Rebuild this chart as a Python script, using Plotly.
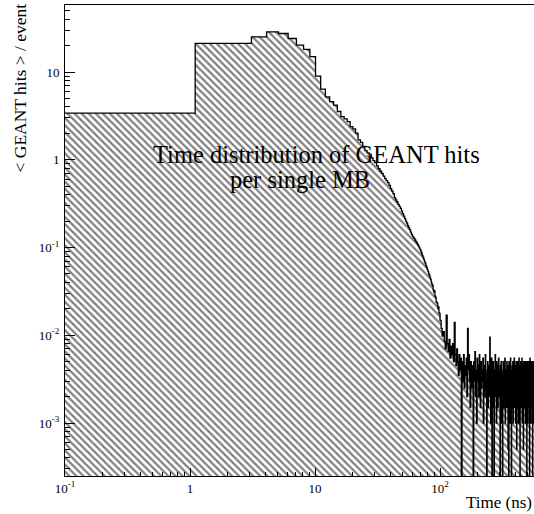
import plotly.graph_objects as go

# ---- data ----
# 1-ns bins starting at 0.1 ns: [0.1,1.1], [1.1,2.1], ... , [99.1,100.1]
fine_start = 0.1
fine_width = 1.0
fine_vals = [
    3.40, 21.2, 21.2, 25.2, 28.7, 27.5, 24.1, 20.3, 18.1, 15.0,
    9.0, 6.4, 5.2, 4.6, 4.2, 3.55, 3.1, 2.92, 2.72, 2.39,
    2.25, 2.01, 1.69, 1.58, 1.42, 1.27, 1.20, 1.16, 1.05, 0.98,
    0.93, 0.85, 0.79, 0.74, 0.70, 0.65, 0.61, 0.58, 0.55, 0.51,
    0.47, 0.44, 0.41, 0.37, 0.35, 0.33, 0.31, 0.295, 0.28, 0.26,
    0.243, 0.228, 0.214, 0.20, 0.19, 0.178, 0.168, 0.160, 0.150, 0.141,
    0.135, 0.130, 0.126, 0.121, 0.117, 0.113, 0.108, 0.104, 0.099, 0.095,
    0.091, 0.086, 0.081, 0.077, 0.073, 0.069, 0.066, 0.062, 0.059, 0.056,
    0.053, 0.050, 0.048, 0.045, 0.043, 0.040, 0.038, 0.037, 0.033, 0.031,
    0.032, 0.028, 0.027, 0.024, 0.0237, 0.023, 0.020, 0.021, 0.018, 0.0178,
]

# tail: 2-ns bins from 100.1 ns, values in units of 1e-3 hits/event
tail_width = 2.0
tail_vals_e3 = [
    14.8, 12.0, 9.8, 11.0, 8.5, 7.0, 17.0, 8.0, 6.5, 9.0,
    5.5, 7.5, 6.0, 8.0, 5.0, 14.0, 6.0, 4.5, 7.0, 5.0,
    3.5, 6.0, 4.0, 5.5, 0, 5.0, 3.0, 6.0, 2.5, 4.5,
    3.5, 5.5, 2.0, 12.0, 4.0, 6.0, 3.0, 1.5, 5.0, 3.5,
    2.5, 4.5, 0, 5.0, 3.0, 6.5, 2.0, 4.0, 1.0, 5.5,
    3.0, 4.5, 2.0, 6.0, 3.5, 1.5, 5.0, 2.5, 4.0, 3.0,
    5.5, 1.0, 3.5, 4.5, 2.0, 6.0, 3.0, 2.5, 0, 4.0,
    5.0, 1.5, 3.0, 4.5, 2.0, 9.5, 3.5, 1.0, 4.0, 5.5,
    0, 3.0, 2.0, 5.0, 1.5, 0, 4.0, 3.0, 6.0, 2.0,
    3.5, 1.0, 5.0, 2.5, 4.5, 1.5, 3.0, 5.5, 2.0, 4.0,
    3.0, 0, 4.5, 2.0, 5.0, 1.0, 3.5, 2.5, 0, 4.0,
    5.0, 1.5, 3.0, 4.5, 2.0, 5.5, 1.0, 3.5, 2.5, 4.0,
    1.5, 5.0, 3.0, 2.0, 4.5, 0.5, 3.5, 0, 5.0, 2.0,
    4.0, 1.0, 3.0, 5.5, 2.0, 4.0, 0, 3.5, 1.5, 4.5,
    2.5, 5.0, 1.0, 3.0, 4.0, 2.0, 5.5, 1.5, 3.5, 2.5,
    4.5, 1.0, 3.0, 5.0, 2.0, 0.5, 4.0, 3.0, 1.5, 5.0,
    2.5, 4.0, 1.0, 3.5, 5.5, 2.0, 3.0, 1.0, 0, 4.5,
    2.0, 5.0, 3.0, 1.5, 4.0, 2.5, 5.5, 1.0, 3.0, 4.5,
    2.0, 3.5, 0.5, 5.0, 2.5, 4.0, 1.5, 3.0, 5.0, 2.0,
    4.0, 1.0, 3.5, 2.5, 5.0, 1.5, 3.0, 0, 4.5, 2.0,
    3.0, 5.0, 1.0, 4.0, 2.5, 3.5, 1.5, 5.0, 2.0, 4.0,
    0, 3.0, 5.5, 1.5, 3.5, 2.5, 4.5, 1.0, 3.0, 5.0,
    2.0, 4.0, 1.5, 3.5, 5.0, 0, 2.5, 4.5, 1.0, 3.0,
    5.0, 2.0,
]

x_tick_vals = [0.1, 1, 10, 100]
x_tick_text = ["10<sup>-1</sup>", "1", "10", "10<sup>2</sup>"]
y_tick_vals = [1e-3, 1e-2, 1e-1, 1, 10]
y_tick_text = ["10<sup>-3</sup>", "10<sup>-2</sup>", "10<sup>-1</sup>", "1", "10"]

title_line1 = "Time distribution of GEANT hits"
title_line2 = "per single MB"
x_title = "Time (ns)"
y_title = "&lt; GEANT hits &gt; / event"

# ---- build step outline ----
edges = [fine_start + i * fine_width for i in range(len(fine_vals) + 1)]
tail_start = edges[-1]
edges += [tail_start + (j + 1) * tail_width for j in range(len(tail_vals_e3))]
values = fine_vals + [v * 1e-3 for v in tail_vals_e3]
FLOOR = 1e-9  # empty bins drawn down to the axis bottom
yplot = [v if v > 0 else FLOOR for v in values]
yplot = yplot + [yplot[-1]]

fig = go.Figure()
fig.add_trace(go.Scatter(
    x=edges, y=yplot, mode="lines", line_shape="hv",
    line=dict(color="black", width=1.3),
    fill="tozeroy",
    fillcolor="white",
    fillpattern=dict(shape="\\", fgcolor="black", bgcolor="white",
                     size=5, solidity=0.45),
    showlegend=False, hoverinfo="skip",
))

serif = "Liberation Serif"
fig.update_layout(
    width=534, height=514,
    margin=dict(l=65, r=0, t=5, b=38),
    paper_bgcolor="white", plot_bgcolor="white",
    font=dict(family=serif, color="black"),
    xaxis=dict(
        type="log", range=[-1, 2.752],
        showgrid=False, zeroline=False,
        showline=True, linecolor="black", linewidth=1, mirror=True,
        ticks="inside", ticklen=8, tickcolor="black",
        tickvals=x_tick_vals, ticktext=x_tick_text,
        tickfont=dict(family=serif, size=13, color="black"),
        minor=dict(ticks="inside", ticklen=4, tickcolor="black",
                   tickvals=[m * 10 ** e for e in range(-1, 3) for m in range(2, 10)],
                   showgrid=False),
    ),
    yaxis=dict(
        type="log", range=[-3.604, 1.764],
        showgrid=False, zeroline=False,
        showline=True, linecolor="black", linewidth=1, mirror=False,
        ticks="inside", ticklen=10, tickcolor="black",
        tickvals=y_tick_vals, ticktext=y_tick_text,
        tickfont=dict(family=serif, size=13, color="black"),
        ticklabelstandoff=2,
        minor=dict(ticks="inside", ticklen=5, tickcolor="black",
                   tickvals=[m * 10 ** e for e in range(-4, 2) for m in range(2, 10)],
                   showgrid=False),
    ),
)

def px2paper_x(px):
    return (px - 65) / 469.0

def px2paper_y(py):
    return (476 - py) / 471.0

fig.add_annotation(text=title_line1, x=px2paper_x(316.5), y=px2paper_y(154),
                   xref="paper", yref="paper", showarrow=False,
                   xanchor="center", yanchor="middle",
                   font=dict(family=serif, size=24.5, color="black"))
fig.add_annotation(text=title_line2, x=px2paper_x(300), y=px2paper_y(179),
                   xref="paper", yref="paper", showarrow=False,
                   xanchor="center", yanchor="middle",
                   font=dict(family=serif, size=24.5, color="black"))
fig.add_annotation(text=x_title, x=1.0, y=px2paper_y(502),
                   xref="paper", yref="paper", showarrow=False,
                   xanchor="right", yanchor="middle",
                   font=dict(family=serif, size=17, color="black"))
fig.add_annotation(text=y_title, x=px2paper_x(19), y=px2paper_y(2),
                   xref="paper", yref="paper", showarrow=False,
                   textangle=-90, xanchor="center", yanchor="top",
                   font=dict(family=serif, size=17.5, color="black"))

fig.write_html("out.html")
